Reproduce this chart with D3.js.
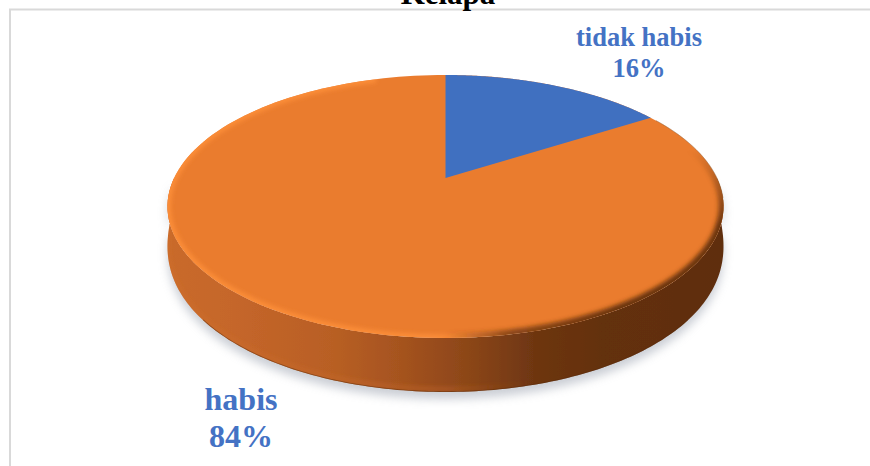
<!DOCTYPE html>
<html>
<head>
<meta charset="utf-8">
<script src="https://cdn.jsdelivr.net/npm/d3@7"></script>
<style>
html,body{margin:0;padding:0;background:#fff}
svg{display:block}
text{font-family:"Liberation Serif","Times New Roman",serif;font-weight:bold}
</style>
</head>
<body>
<svg id="chart" width="870" height="466"></svg>
<script>
// Share of coconut left over
const chartTitle = "Kelapa";
const categories = ["tidak habis", "habis"];
const shares = [16, 84];
const sliceColours = ["#4170C0", "#EA7B2F"];
const labelColour = "#4472C4";

const svg = d3.select("#chart");
const defs = svg.append("defs");

// Tilted disc: unit-circle points are projected with perspective
const hub = {x: 445.5, y: 178};
const radiusX = 271.4, radiusY = 125.3, tilt = 0.2167, wallHeight = 54;
const project = (a, drop = 0) => {
  const u = Math.sin(a), v = Math.cos(a), w = 1 + tilt * v;
  return [hub.x + radiusX * u / w, hub.y - radiusY * v / w + drop];
};
// The wall is tallest at the front and closes to nothing at the far sides
const wallDrop = (a, inset = 0) =>
  wallHeight * Math.pow(Math.abs(Math.cos(a)), 0.2) - inset;
const line = d3.line();
const sweep = (a0, a1) => d3.range(0, 181).map(i => a0 + (a1 - a0) * i / 180);
const arcPoints = (a0, a1) => sweep(a0, a1).map(a => project(a));
const basePoints = (a0, a1, inset = 0) =>
  sweep(a0, a1).map(a => project(a, wallDrop(a, inset)));

// Slice angles come straight from the values
const arcs = d3.pie().sort(null)(shares);
const PI = Math.PI, tau = PI * 2;

// Filters
const blur = (id, s) => defs.append("filter").attr("id", id)
  .attr("x", "-10%").attr("y", "-20%").attr("width", "120%").attr("height", "140%")
  .append("feGaussianBlur").attr("stdDeviation", s);
blur("shadowBlur", 5);
blur("rimBlur", 2.2);
blur("softEdge", 0.6);

// Horizontal gradients; each stop is [offset, colour, opacity]
const gradient = (id, stops) => {
  const g = defs.append("linearGradient").attr("id", id)
    .attr("gradientUnits", "userSpaceOnUse")
    .attr("x1", 168).attr("x2", 723).attr("y1", 0).attr("y2", 0);
  stops.forEach(([o, c, a = 1]) => g.append("stop")
    .attr("offset", o).attr("stop-color", c).attr("stop-opacity", a));
};
gradient("wallShade", [
  [0, "#C96A2A"], [0.12, "#C5662A"], [0.3, "#B85F24"], [0.42, "#A5531F"],
  [0.55, "#8A4518"], [0.66, "#6E3611"], [0.78, "#643010"], [1, "#5F2E0E"]
]);
gradient("highlightShade", [
  [0, "#FB8D38"], [0.45, "#FB8D38"], [0.62, "#FB8D38", 0.7], [0.72, "#FB8D38", 0]
]);
gradient("darkRimShade", [
  [0.5, "#7A3D14", 0], [0.62, "#7A3D14", 0.85], [0.8, "#6B3411"], [1, "#6B3411"]
]);
gradient("footGlow", [
  [0, "#D0702C", 0.7], [0.5, "#BE642A", 0.7], [0.66, "#8A4518", 0]
]);

// Fades the dark rim out towards the back of the disc
const fade = defs.append("linearGradient").attr("id", "rimFade")
  .attr("gradientUnits", "userSpaceOnUse")
  .attr("x1", 0).attr("x2", 0).attr("y1", 150).attr("y2", 225);
fade.append("stop").attr("offset", 0).attr("stop-color", "#000");
fade.append("stop").attr("offset", 1).attr("stop-color", "#fff");
defs.append("mask").attr("id", "rimMask")
  .attr("maskUnits", "userSpaceOnUse")
  .attr("x", 0).attr("y", 0).attr("width", 870).attr("height", 466)
  .append("rect").attr("width", 870).attr("height", 466).attr("fill", "url(#rimFade)");

// Frame lines
svg.append("path")
  .attr("d", line([[10, 466], [10, 9.5], [870, 9.5]]))
  .attr("fill", "none").attr("stroke", "#D9D9D9").attr("stroke-width", 2);

// Title, running off the top edge
svg.append("text").attr("x", 448).attr("y", 4)
  .attr("text-anchor", "middle").attr("font-size", 31).attr("fill", "#000")
  .text(chartTitle);

// Side wall outline, also used offset for the shadow below it
const wall = arcPoints(PI / 2, 3 * PI / 2).concat(basePoints(3 * PI / 2, PI / 2));
const wallPath = line(wall) + "Z";

// Soft shadow under the disc
svg.append("path")
  .attr("d", wallPath)
  .attr("transform", "translate(0,7)")
  .attr("fill", "#BEC2CB").attr("opacity", 0.8)
  .attr("filter", "url(#shadowBlur)");

// Side wall
defs.append("clipPath").attr("id", "wallClip").append("path").attr("d", wallPath);
const wallGroup = svg.append("g");
wallGroup.append("path").attr("d", wallPath)
  .attr("fill", "url(#wallShade)").attr("filter", "url(#softEdge)");
const footGroup = wallGroup.append("g").attr("clip-path", "url(#wallClip)");
footGroup.append("path")
  .attr("d", line(basePoints(PI * 0.9, PI * 1.55, 3)))
  .attr("fill", "none").attr("stroke", "url(#footGlow)")
  .attr("stroke-width", 3).attr("filter", "url(#rimBlur)");
footGroup.append("path")
  .attr("d", line(basePoints(PI * 0.72, PI * 1.28)))
  .attr("fill", "none").attr("stroke", "#5A2C0C")
  .attr("stroke-width", 1.6).attr("opacity", 0.5);

// Top surface
const topPath = line(arcPoints(0, tau)) + "Z";
defs.append("clipPath").attr("id", "topClip").append("path").attr("d", topPath);
svg.append("path").attr("d", topPath).attr("fill", sliceColours[1])
  .attr("filter", "url(#softEdge)");

// Bevel along the rim: bright on the left, dark on the right
const rimGroup = svg.append("g").attr("clip-path", "url(#topClip)");
rimGroup.append("path")
  .attr("d", line(arcPoints(PI * 0.95, PI * 1.9)))
  .attr("fill", "none").attr("stroke", "url(#highlightShade)")
  .attr("stroke-width", 7).attr("filter", "url(#rimBlur)");
rimGroup.append("g").attr("mask", "url(#rimMask)")
  .append("path")
  .attr("d", line(arcPoints(PI * 0.3, PI * 1.1)))
  .attr("fill", "none").attr("stroke", "url(#darkRimShade)")
  .attr("stroke-width", 10).attr("filter", "url(#rimBlur)");
svg.append("path")
  .attr("d", line(arcPoints(PI * 0.33, PI * 0.55)))
  .attr("fill", "none").attr("stroke", "#8F5A2E")
  .attr("stroke-width", 1).attr("opacity", 0.6).attr("filter", "url(#softEdge)");

// The smaller slice sits on top; the larger one is the surface itself
const sliceGroup = svg.append("g").attr("filter", "url(#softEdge)");
sliceGroup.selectAll("path").data(arcs.slice(0, 1)).join("path")
  .attr("d", d => line([[hub.x, hub.y], ...arcPoints(d.startAngle, d.endAngle)]) + "Z")
  .attr("fill", (d, i) => sliceColours[i]);

// Category labels with their percentages
const labels = [
  {x: 639, y1: 46, y2: 77, size: 26.5, i: 0},
  {x: 241, y1: 410, y2: 447, size: 32, i: 1}
];
labels.forEach(l => {
  svg.append("text").attr("x", l.x).attr("y", l.y1).attr("text-anchor", "middle")
    .attr("font-size", l.size).attr("fill", labelColour).text(categories[l.i]);
  svg.append("text").attr("x", l.x).attr("y", l.y2).attr("text-anchor", "middle")
    .attr("font-size", l.size).attr("fill", labelColour).text(shares[l.i] + "%");
});
</script>
</body>
</html>
